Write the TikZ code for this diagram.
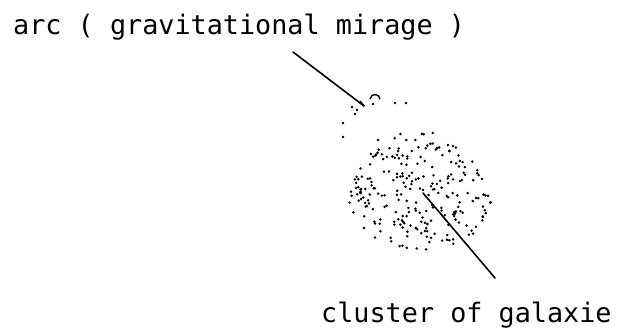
\documentclass[tikz,border=0pt]{standalone}
\usepackage{fontspec}
\setmonofont{DejaVu Sans Mono}
\begin{document}
\begin{tikzpicture}[x=1pt, y=-1pt,
	schrift/.style={font=\ttfamily\fontsize{26.8}{30}\selectfont, inner sep=0pt, anchor=base west},
	zeiger/.style={line width=1.6pt, line cap=round},
	punkt/.style={fill=black}]
	\useasboundingbox (0,0) rectangle (621,329);

	\node[schrift] (arclabel) at (13,35) {arc ( gravitational mirage )};
	\node[schrift] (clusterlabel) at (321,322) {cluster of galaxie};

	%Zeiger zum Bogen
	\coordinate (arcstart) at (293,52);
	\coordinate (arc) at (364,106);
	\draw[zeiger] (arcstart) -- (arc);
	\draw[line width=1.4pt] (arc) -- (360,101);

	%Bogen (Lichtbogen)
	\draw[line width=1.4pt] (370,99) .. controls (371,93) and (379,93) .. (380,99);
	\fill[punkt] (373,104) circle (1.4);
	\fill[punkt] (352,107) circle (1.4);
	\fill[punkt] (357,110) circle (1.4);
	\fill[punkt] (355,114) circle (1.4);
	\fill[punkt] (395,103) circle (1.4);
	\fill[punkt] (406,103) circle (1.4);
	\fill[punkt] (343,123) circle (1.4);
	\fill[punkt] (343,137) circle (1.4);
	\fill[punkt] (378,140) circle (1.4);

	%Haufen: Zufallspunkte, oben schmaler
	\pgfmathsetseed{2024}
	\foreach \i in {1,...,380}{
		\pgfmathsetmacro{\u}{2*rnd-1}
		\pgfmathsetmacro{\v}{2*rnd-1}
		\pgfmathtruncatemacro{\drin}{((\u)/(0.8+0.2*(\v)))^2+(\v)^2<1}
		\ifnum\drin=1
			\fill[punkt] ({419+88*\u}, {189+61*\v}) circle (1.4);
		\fi
	}

	%Zeiger zum Haufen
	\coordinate (clusterin) at (423,193);
	\coordinate (clusterend) at (495,278);
	\draw[zeiger] (clusterin) -- (clusterend);
\end{tikzpicture}
\end{document}
